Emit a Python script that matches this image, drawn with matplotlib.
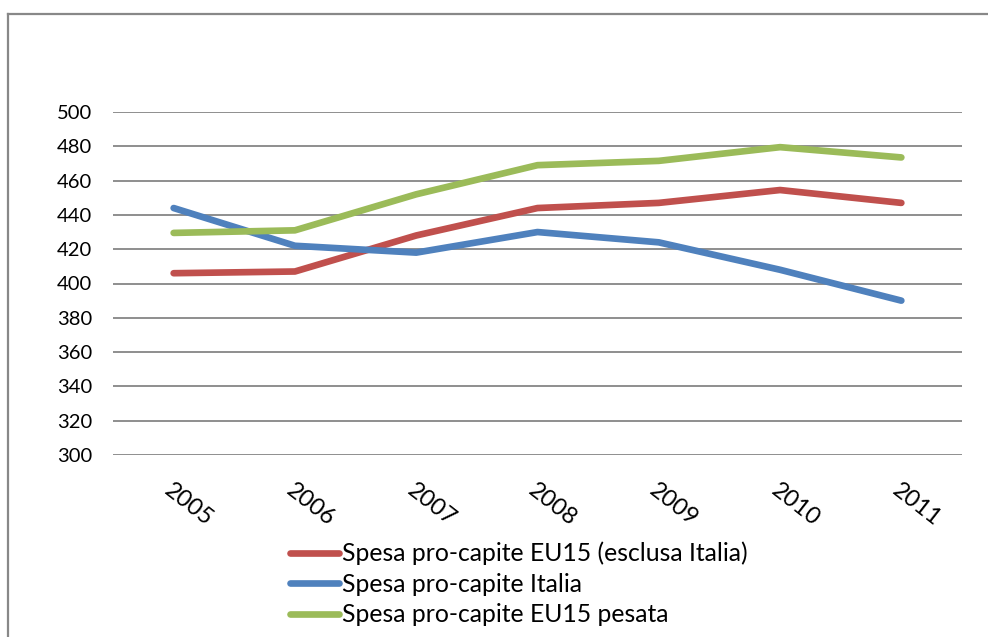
import matplotlib
matplotlib.use("Agg")
import matplotlib.pyplot as plt

# --- DATA ---
years = ["2005", "2006", "2007", "2008", "2009", "2010", "2011"]
eu15_excl_italia = [406, 407, 428, 444, 447, 454.5, 447]
italia = [444, 422, 418, 430, 424, 408, 390]
eu15_pesata = [429.5, 431, 452, 469, 471.5, 479.5, 473.5]

labels = [
    "Spesa pro-capite EU15 (esclusa Italia)",
    "Spesa pro-capite Italia",
    "Spesa pro-capite EU15 pesata",
]
colors = ["#C0504D", "#4F81BD", "#9BBB59"]

plt.rcParams["font.family"] = ["Lato", "DejaVu Sans"]

W, H = 988, 637
fig = plt.figure(figsize=(W / 100, H / 100), dpi=100)

# outer chart frame (only left and top edges visible)
fig.add_artist(plt.Line2D([8 / W, 8 / W], [0, 1 - 13.5 / H], color="#888888", lw=1.6,
                          transform=fig.transFigure))
fig.add_artist(plt.Line2D([8 / W, 1], [1 - 13.5 / H, 1 - 13.5 / H], color="#888888", lw=1.6,
                          transform=fig.transFigure))

ax = fig.add_axes([113 / W, 182 / H, (962 - 113) / W, (455 - 112) / H])

x = list(range(len(years)))
for series, lab, col in zip([eu15_excl_italia, italia, eu15_pesata], labels, colors):
    ax.plot(x, series, color=col, lw=4.8, label=lab,
            solid_capstyle="round", solid_joinstyle="round")

ax.set_xlim(-0.5, len(years) - 0.5)
ax.set_ylim(300, 500)
ax.set_yticks(range(300, 501, 20))
ax.grid(axis="y", color="#868686", lw=1.3)
ax.set_axisbelow(True)
for s in ax.spines.values():
    s.set_visible(False)

ax.tick_params(axis="y", length=0, pad=15, labelsize=14.5)
ax.set_xticks(x)
ax.set_xticklabels(years, rotation=-38, rotation_mode="anchor", ha="left", va="top",
                   fontsize=17)
ax.tick_params(axis="x", length=0, pad=18)

fig.legend(loc="center left", bbox_to_anchor=(290 / W, (H - 584) / H),
           frameon=False, fontsize=17.8, handlelength=2.0, handletextpad=0.12,
           labelspacing=0.3, borderpad=0, borderaxespad=0)

fig.savefig("out.png", dpi=100)
